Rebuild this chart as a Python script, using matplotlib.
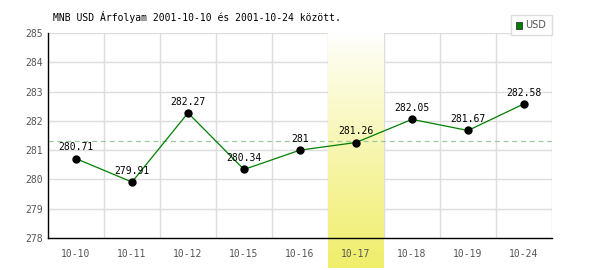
import numpy as np
import matplotlib
matplotlib.use('Agg')
import matplotlib.pyplot as plt
from matplotlib.patches import Rectangle

dates = ['10-10', '10-11', '10-12', '10-15', '10-16', '10-17', '10-18', '10-19', '10-24']
rates = [280.71, 279.91, 282.27, 280.34, 281.00, 281.26, 282.05, 281.67, 282.58]
labels = ['280.71', '279.91', '282.27', '280.34', '281', '281.26', '282.05', '281.67', '282.58']
highlight = '10-17'
title = 'MNB USD Árfolyam 2001-10-10 és 2001-10-24 között.'

plt.rcParams['font.family'] = ['DejaVu Sans Mono', 'DejaVu Sans']

fig = plt.figure(figsize=(6, 2.7), dpi=100)
ax = fig.add_axes([0.08, 0.1185, 0.84, 0.7595])

x = np.arange(len(dates))

# grid
for xv in np.arange(0.5, len(dates) - 0.5 + 0.01, 1.0):
    ax.axvline(xv, color='#dddddd', lw=1, zorder=0)
for yv in range(279, 286):
    ax.axhline(yv, color='#dddddd', lw=1, zorder=0)

# highlighted day: vertical gradient white -> yellow
hi = dates.index(highlight)
grad = np.linspace(0, 1, 256) ** 0.9
top_c = np.array([1.0, 1.0, 1.0])
bot_c = np.array([0xF0, 0xEE, 0x6A]) / 255
img = top_c + (bot_c - top_c) * grad[:, None]
img = img.reshape(256, 1, 3)
ax.imshow(img, extent=[hi - 0.5, hi + 0.5, 276.98, 285], aspect='auto',
          origin='upper', clip_on=False, zorder=1)
ax.set_xlim(-0.5, len(dates) - 0.5)
ax.set_ylim(278, 285)

avg = np.mean(rates)
ax.axhline(avg, color='#a0c8a0', lw=0.9, ls=(0, (4, 3)), zorder=2)

ax.plot(x, rates, color='#008000', lw=0.9, zorder=3)
ax.plot(x, rates, 'o', color='black', ms=5, zorder=4)
for xi, yi, lab in zip(x, rates, labels):
    ax.annotate(lab, (xi, yi), xytext=(0, 4.5), textcoords='offset points',
                ha='center', va='bottom', fontsize=7, color='black', zorder=5)

ax.set_xticks(x)
ax.set_xticklabels(dates)
ax.set_yticks(range(278, 286))
ax.tick_params(axis='both', length=0, labelsize=7, colors='#555555')
ax.tick_params(axis='x', pad=8)
ax.tick_params(axis='y', pad=4)
for s in ['top', 'right']:
    ax.spines[s].set_visible(False)
ax.spines['left'].set_color('black')
ax.spines['bottom'].set_color('black')
ax.spines['left'].set_linewidth(1)
ax.spines['bottom'].set_linewidth(1)
ax.spines['left'].set_zorder(6)
ax.spines['bottom'].set_zorder(6)

fig.text(53 / 600, 1 - 17 / 270, title, fontsize=7, color='black', va='center')

# legend box
fig.patches.append(Rectangle((511 / 600, 1 - 35 / 270), 41 / 600, 20 / 270,
                             transform=fig.transFigure, fill=True, fc='white',
                             ec='#dddddd', lw=1, zorder=5))
fig.patches.append(Rectangle((516 / 600, 1 - 28.5 / 270), 6 / 600, 6 / 270,
                             transform=fig.transFigure, fc='#008000',
                             ec='#333333', lw=0.6, zorder=6))
fig.text(525 / 600, 1 - 25.5 / 270, 'USD', fontsize=7, color='#555555',
         va='center', family='DejaVu Sans', zorder=7)

fig.savefig('out.png', dpi=100)
